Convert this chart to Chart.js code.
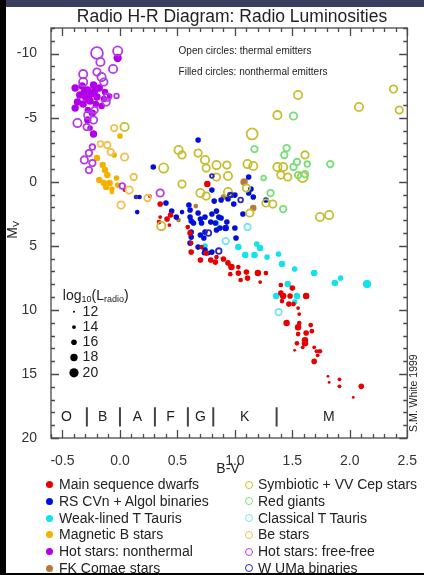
<!DOCTYPE html>
<html>
<head>
<meta charset="utf-8">
<script src="https://cdn.jsdelivr.net/npm/chart.js@4.4.1/dist/chart.umd.min.js"></script>
<style>
  body { margin: 0; background: #fff; font-family: "Liberation Sans", Arial, sans-serif; }
  #wrap { position: relative; width: 424px; height: 575px; overflow: hidden; background: #fff; }
  #hrChart { position: absolute; left: 0; top: 0; }
  .bar-top { position: absolute; left: 0; top: 0; width: 424px; height: 7px; background: #3b3d5d; }
  .bar-left { position: absolute; left: 0; top: 0; width: 6px; height: 575px; background: #000; }
  .bar-bottom { position: absolute; left: 0; top: 573px; width: 424px; height: 2px; background: #000; }
  .legend-col { position: absolute; top: 476px; font-size: 14px; color: #222; }
  .legend-row { position: relative; height: 16.8px; line-height: 16.8px; white-space: nowrap; }
  .legend-row .mark { position: absolute; top: 5px; left: 0; width: 7px; height: 7px; border-radius: 50%; box-sizing: border-box; }
  .legend-row span.txt { position: absolute; left: 13px; top: 0; }
</style>
</head>
<body>
<div id="wrap">
  <canvas id="hrChart" width="424" height="575"></canvas>
  <div class="bar-top"></div>
  <div class="bar-left"></div>
  <div class="bar-bottom"></div>
  <div class="legend-col" id="legendLeft" style="left:46px"></div>
  <div class="legend-col" id="legendRight" style="left:245px"></div>
</div>
<script>
// ========== RADIO H-R DIAGRAM ==========

// [B-V, Mv, log10 Lradio]
const mainSequenceDwarfs = [
  [0.04, 0.65, 14], [0.26, 1.12, 14], [0.35, 1.74, 16], [0.35, 2.76, 14], [0.41, 2.91, 16],
  [0.34, 3.15, 15], [0.43, 3.38, 14], [0.44, 2.6, 16], [0.76, 0.18, 17], [0.59, 3.54, 15],
  [0.61, 4.0, 16], [0.62, 4.78, 15], [0.62, 5.49, 16], [0.71, 5.1, 15], [0.75, 5.57, 16],
  [0.70, 6.11, 16], [0.79, 6.11, 16], [0.83, 6.27, 16], [0.84, 5.88, 15], [0.90, 6.03, 16],
  [0.94, 6.35, 16], [0.97, 6.66, 17], [1.03, 6.66, 15], [1.10, 7.05, 16], [1.03, 7.13, 16],
  [0.96, 7.21, 15], [1.05, 7.67, 15], [1.11, 7.52, 16], [1.20, 7.13, 17], [1.27, 7.13, 15],
  [1.22, 7.83, 14], [1.40, 8.06, 15], [1.50, 8.3, 16], [1.42, 8.92, 17], [1.48, 8.92, 16],
  [1.62, 8.92, 17], [1.41, 9.31, 15], [1.47, 9.55, 16], [1.51, 9.55, 15], [1.55, 9.86, 14],
  [1.56, 10.33, 14], [1.40, 8.69, 16], [1.45, 11.03, 17], [1.56, 11.03, 15], [1.55, 11.35, 17],
  [1.66, 11.19, 15], [1.67, 11.66, 15], [1.62, 11.81, 16], [1.55, 11.89, 15], [1.61, 12.38, 17],
  [1.61, 12.61, 17], [1.54, 12.61, 15], [1.59, 12.92, 14], [1.52, 13.16, 13], [1.69, 12.92, 14],
  [1.71, 13.23, 14], [1.74, 13.23, 15], [1.72, 13.55, 14], [1.69, 14.02, 16], [1.81, 15.19, 13],
  [1.82, 15.66, 13], [1.91, 15.42, 14], [1.91, 15.97, 14], [2.10, 15.97, 16], [2.03, 16.83, 13]
];
const rsCvnAlgol = [
  [0.68, -3.26, 16], [0.29, -1.15, 16], [0.15, 2.37, 15], [0.17, 1.19, 15], [0.40, 1.66, 16],
  [0.45, 2.29, 16], [0.49, 2.76, 16], [0.60, 1.82, 16], [0.61, 2.21, 16], [0.61, 2.76, 16],
  [0.62, 3.07, 16], [0.70, 2.91, 16], [0.74, 2.76, 16], [0.80, 2.52, 16], [0.84, 2.29, 16],
  [0.82, 1.51, 16], [0.88, 1.43, 16], [0.94, 1.35, 16], [1.00, 1.04, 16], [0.80, 0.65, 16],
  [0.83, 3.22, 16], [0.87, 3.61, 16], [0.88, 2.83, 16], [0.93, 3.15, 16], [0.92, 3.61, 17],
  [1.00, 3.61, 16], [1.01, 4.39, 16], [0.74, 3.93, 16], [0.70, 4.16, 16], [0.62, 4.32, 16],
  [0.68, 5.1, 16], [0.74, 5.33, 16], [0.80, 5.49, 16], [1.12, -0.37, 16], [1.14, 0.57, 16],
  [1.12, 0.88, 16], [0.97, 1.04, 16], [0.99, 1.74, 16], [1.16, 1.19, 16], [1.07, 2.52, 16],
  [1.27, 1.43, 16], [0.68, 2.44, 16], [0.86, 2.76, 16], [0.84, 3.77, 16], [0.64, 3.22, 16],
  [0.71, 3.22, 16], [0.79, 3.15, 16], [0.62, 3.93, 16], [0.73, 4.39, 16], [0.61, 4.79, 16],
  [0.77, 5.57, 15], [0.73, 5.57, 15], [0.54, 2.37, 15]
];
const weakLinedTTauri = [
  [0.84, 3.22, 16], [0.74, 5.02, 16], [1.03, 5.1, 17], [1.09, 5.72, 17], [1.17, 5.72, 17],
  [1.19, 4.86, 16], [1.22, 5.17, 17], [1.28, 5.88, 16], [1.38, 5.64, 16], [1.41, 6.42, 17],
  [1.52, 6.81, 16], [1.69, 7.13, 17], [1.87, 7.91, 17], [1.92, 7.52, 16], [2.15, 7.98, 19],
  [1.46, 7.98, 17], [1.36, 8.92, 17], [1.54, 8.92, 17], [1.52, 9.39, 16]
];
const magneticBStars = [
  [0.00, -3.57, 16], [-0.20, -1.85, 17], [-0.05, -2.09, 16], [-0.15, -1.3, 17], [-0.13, -0.91, 17],
  [-0.11, -0.52, 17], [-0.18, -0.13, 17], [-0.14, 0.1, 17], [-0.09, 0.1, 17], [-0.12, 0.41, 17],
  [-0.07, 0.57, 16], [-0.02, 0.26, 16], [-0.07, 0.8, 15], [-0.03, -0.29, 16]
];
const hotStarsNonthermal = [
  [-0.02, -9.66, 19], [-0.39, -7.32, 18], [-0.33, -7.47, 18], [-0.28, -7.16, 18], [-0.23, -7.55, 18],
  [-0.18, -7.32, 18], [-0.13, -7.0, 17], [-0.35, -6.77, 18], [-0.30, -6.61, 18], [-0.25, -6.85, 18],
  [-0.20, -6.61, 18], [-0.14, -6.46, 17], [-0.37, -6.22, 18], [-0.32, -6.07, 18], [-0.26, -6.3, 18],
  [-0.21, -6.07, 17], [-0.16, -5.91, 17], [-0.28, -5.6, 17], [-0.24, -5.36, 18], [-0.39, -5.75, 18],
  [-0.09, -6.69, 16], [-0.28, -4.82, 18], [-0.23, -3.73, 18], [-0.26, -4.19, 16], [-0.31, -7.0, 18],
  [-0.22, -7.1, 18], [-0.27, -6.4, 18]
];
const fkComaeStars = [
  [1.08, 0.02, 18], [1.16, 2.05, 17], [0.90, 1.19, 16], [0.51, 2.99, 15], [0.14, 1.19, 15],
  [0.94, 6.27, 15], [0.66, 1.9, 15]
];
const symbioticVVCep = [
  [0.04, -4.27, 19], [0.51, -2.48, 19], [0.54, -2.09, 18], [0.68, -2.24, 18], [0.74, -1.7, 19],
  [0.75, -1.07, 18], [0.84, -1.3, 19], [0.93, -1.3, 18], [0.84, -0.37, 18], [0.94, -0.45, 19],
  [0.38, -1.07, 20], [0.54, 0.18, 18], [0.70, 0.88, 19], [0.75, 1.12, 18], [0.94, 0.8, 19],
  [1.10, 0.49, 18], [1.11, -1.38, 19], [1.16, -1.23, 19], [1.15, -3.73, 22], [1.37, -5.2, 19],
  [1.55, -6.77, 19], [2.08, -5.83, 19], [2.38, -7.24, 18], [2.43, -5.6, 18], [1.61, -2.09, 18],
  [1.37, -1.15, 19], [1.42, -1.15, 19], [1.40, -0.52, 18], [1.46, -0.37, 18], [1.59, -0.37, 21],
  [1.27, 1.66, 18], [1.33, 1.74, 18], [1.13, 2.44, 18], [1.74, 2.75, 19], [1.82, 2.6, 19],
  [0.36, 3.46, 19]
];
const redGiants = [
  [1.51, -5.13, 18], [1.17, -2.55, 17], [1.45, -2.63, 17], [1.43, -2.09, 17], [1.54, -1.54, 17],
  [1.51, -1.15, 17], [1.63, -1.38, 16], [1.83, -1.38, 17], [1.25, -0.29, 15], [1.55, -0.52, 17],
  [1.61, -0.6, 17], [1.31, 0.88, 17], [1.42, 2.13, 17]
];
const classicalTTauri = [
  [0.92, 4.63, 17], [1.11, 3.53, 17], [1.38, 10.17, 17]
];
const beStars = [
  [-0.05, -4.19, 17], [-0.11, -2.87, 17], [-0.08, -2.32, 17], [0.04, -1.93, 18], [0.12, -0.37, 17],
  [0.08, 0.65, 18], [0.01, 1.82, 18], [0.24, 1.27, 17], [-0.17, -2.95, 16]
];
const hotStarsFreeFree = [
  [-0.20, -10.05, 23], [-0.02, -10.2, 20], [-0.17, -9.35, 19], [-0.06, -8.8, 19], [-0.32, -8.4, 19],
  [-0.20, -8.56, 18], [-0.16, -8.17, 19], [-0.32, -7.78, 19], [-0.14, -7.78, 18], [-0.03, -6.69, 15],
  [-0.11, -6.6, 18], [-0.12, -6.22, 18], [-0.37, -4.58, 19], [-0.28, -5.2, 18], [-0.23, -4.82, 18],
  [-0.29, -4.27, 17], [-0.22, -5.6, 17], [-0.24, -2.71, 16], [-0.27, -2.24, 17], [-0.31, -1.7, 18],
  [-0.24, -1.46, 17], [-0.27, -0.91, 17], [0.35, 0.88, 18], [0.02, 0.33, 16]
];
const wUMaBinaries = [
  [0.80, -0.45, 14], [0.96, 1.04, 15], [1.05, 1.43, 15], [0.77, 4.0, 16], [0.86, 5.41, 16],
  [0.14, 1.19, 13]
];

// eixos e rotulos
const xTickValues = [-0.5, 0.0, 0.5, 1.0, 1.5, 2.0, 2.5];
const yTickValues = [-10, -5, 0, 5, 10, 15, 20];
const sizeLegendValues = [12, 14, 16, 18, 20];
const spectralClasses = ['O', 'B', 'A', 'F', 'G', 'K', 'M'];
const spectralCenters = [-0.465, -0.15, 0.152, 0.439, 0.70, 1.085, 1.817];
const spectralBounds = [-0.288, 0.0, 0.304, 0.591, 0.812, 1.363];

// grupos: filled = nao-termico, open = termico
const groups = [
  { label: 'Main sequence dwarfs', data: mainSequenceDwarfs, color: '#e80000', filled: true },
  { label: 'RS CVn + Algol binaries', data: rsCvnAlgol, color: '#0010d8', filled: true },
  { label: 'Weak-lined T Tauris', data: weakLinedTTauri, color: '#12e2ec', filled: true },
  { label: 'Magnetic B stars', data: magneticBStars, color: '#f4b200', filled: true },
  { label: 'Hot stars: nonthermal', data: hotStarsNonthermal, color: '#b200e8', filled: true },
  { label: 'FK Comae stars', data: fkComaeStars, color: '#b87a3c', filled: true },
  { label: 'Symbiotic + VV Cep stars', data: symbioticVVCep, color: '#c6be2e', filled: false },
  { label: 'Red giants', data: redGiants, color: '#78de78', filled: false },
  { label: 'Classical T Tauris', data: classicalTTauri, color: '#78e4ee', filled: false },
  { label: 'Be stars', data: beStars, color: '#f2c050', filled: false },
  { label: 'Hot stars: free-free', data: hotStarsFreeFree, color: '#b43ce6', filled: false },
  { label: 'W UMa binaries', data: wUMaBinaries, color: '#2a2ab4', filled: false }
];

function radiusFor(logL) {
  return Math.max(0.9, 1 + 0.45 * (logL - 12));
}

const FONT = '"Liberation Sans", Arial, sans-serif';

function drawSub(ctx, parts, x, y, size) {
  // parts: [texto, subscrito?]
  let cx = x;
  parts.forEach(([t, sub]) => {
    ctx.font = (sub ? Math.round(size * 0.62) : size) + 'px ' + FONT;
    ctx.fillText(t, cx, sub ? y + size * 0.28 : y);
    cx += ctx.measureText(t).width;
  });
}

const hrDecor = {
  id: 'hrDecor',
  beforeDraw(chart) {
    const ctx = chart.ctx;
    ctx.save();
    ctx.fillStyle = '#fff';
    ctx.fillRect(0, 0, chart.width, chart.height);
    ctx.restore();
  },
  afterDraw(chart) {
    const { ctx, chartArea: a, scales: { x, y } } = chart;
    ctx.save();

    // moldura + ticks para dentro
    ctx.strokeStyle = '#4a4a4a';
    ctx.lineWidth = 1.3;
    ctx.strokeRect(a.left, a.top, a.right - a.left, a.bottom - a.top);
    ctx.beginPath();
    for (let i = -12; i <= 20; i++) {
      const py = Math.round(y.getPixelForValue(i)) + 0.5;
      const len = i % 5 === 0 ? 8 : 4;
      ctx.moveTo(a.left, py); ctx.lineTo(a.left + len, py);
      ctx.moveTo(a.right, py); ctx.lineTo(a.right - len, py);
    }
    for (let i = -6; i <= 25; i++) {
      const px = Math.round(x.getPixelForValue(i / 10)) + 0.5;
      const len = i % 5 === 0 ? 8 : 4;
      ctx.moveTo(px, a.bottom); ctx.lineTo(px, a.bottom - len);
      ctx.moveTo(px, a.top); ctx.lineTo(px, a.top + len);
    }
    ctx.stroke();

    ctx.fillStyle = '#222';
    ctx.textBaseline = 'middle';

    // titulo
    ctx.textAlign = 'center';
    ctx.font = '17.5px ' + FONT;
    ctx.fillText('Radio H-R Diagram: Radio Luminosities', 232, 17);

    // titulo do eixo x
    ctx.font = '14px ' + FONT;
    ctx.fillText('B-V', 228, 469);

    // notas
    ctx.textAlign = 'left';
    ctx.font = '10px ' + FONT;
    ctx.fillText('Open circles: thermal emitters', x.getPixelForValue(0.51), y.getPixelForValue(-10.2));
    ctx.fillText('Filled circles: nonthermal emitters', x.getPixelForValue(0.51), y.getPixelForValue(-8.55));

    // classes espectrais
    ctx.textAlign = 'center';
    ctx.font = '14px ' + FONT;
    spectralClasses.forEach((c, i) => {
      ctx.fillText(c, x.getPixelForValue(spectralCenters[i]), y.getPixelForValue(18.35));
    });
    ctx.strokeStyle = '#444';
    ctx.lineWidth = 2;
    ctx.beginPath();
    spectralBounds.forEach(b => {
      const px = x.getPixelForValue(b);
      ctx.moveTo(px, y.getPixelForValue(17.6));
      ctx.lineTo(px, y.getPixelForValue(19.1));
    });
    ctx.stroke();

    // legenda de tamanho
    ctx.textAlign = 'left';
    drawSub(ctx, [['log', false], ['10', true], ['(L', false], ['radio', true], [')', false]],
      x.getPixelForValue(-0.497), y.getPixelForValue(8.9), 14);
    ctx.font = '14px ' + FONT;
    sizeLegendValues.forEach((v, i) => {
      const py = y.getPixelForValue(10.15 + 1.19 * i);
      ctx.beginPath();
      ctx.fillStyle = '#000';
      ctx.arc(x.getPixelForValue(-0.40), py, radiusFor(v), 0, Math.PI * 2);
      ctx.fill();
      ctx.fillStyle = '#222';
      ctx.fillText(String(v), x.getPixelForValue(-0.325), py);
    });

    // eixo y: M_V
    ctx.save();
    ctx.translate(a.left - 38, y.getPixelForValue(3.9));
    ctx.rotate(-Math.PI / 2);
    ctx.textAlign = 'left';
    drawSub(ctx, [['M', false], ['V', true]], -7, 0, 14);
    ctx.restore();

    // credito
    ctx.save();
    ctx.translate(a.right + 7, y.getPixelForValue(16.5));
    ctx.rotate(-Math.PI / 2);
    ctx.textAlign = 'center';
    ctx.font = '10.5px ' + FONT;
    ctx.fillText('S.M. White 1999', 0, 0);
    ctx.restore();

    ctx.restore();
  }
};

// desenha abertos por cima dos preenchidos
const drawOrder = groups.slice().reverse().filter(g => !g.filled).concat(groups.filter(g => g.filled));

new Chart(document.getElementById('hrChart'), {
  type: 'scatter',
  data: {
    datasets: drawOrder.map(g => ({
      label: g.label,
      data: g.data.map(p => ({ x: p[0], y: p[1], L: p[2] })),
      pointRadius: ctx => radiusFor(ctx.raw ? ctx.raw.L : 16),
      pointHoverRadius: ctx => radiusFor(ctx.raw ? ctx.raw.L : 16),
      pointBackgroundColor: g.filled ? g.color : 'rgba(0,0,0,0)',
      pointBorderColor: g.color,
      pointBorderWidth: g.filled ? 0 : 1.8,
      showLine: false
    }))
  },
  options: {
    responsive: false,
    animation: false,
    events: [],
    layout: { padding: { top: 28, right: 13, left: 0, bottom: 0 } },
    plugins: { legend: { display: false }, tooltip: { enabled: false }, title: { display: false } },
    scales: {
      x: {
        type: 'linear',
        min: -0.6,
        max: 2.5,
        grid: { display: false },
        border: { display: false },
        afterBuildTicks: s => { s.ticks = xTickValues.map(v => ({ value: v })); },
        afterFit: s => { s.height = 137; },
        ticks: {
          color: '#333',
          font: { family: FONT, size: 14 },
          padding: 7,
          maxRotation: 0,
          autoSkip: false,
          callback: v => Number(v).toFixed(1)
        }
      },
      y: {
        type: 'linear',
        reverse: true,
        min: -12,
        max: 20,
        grid: { display: false },
        border: { display: false },
        afterBuildTicks: s => { s.ticks = yTickValues.map(v => ({ value: v })); },
        afterFit: s => { s.width = 51; },
        ticks: {
          color: '#333',
          font: { family: FONT, size: 14 },
          padding: 6,
          autoSkip: false,
          callback: v => String(v)
        }
      }
    }
  },
  plugins: [hrDecor]
});

// legenda em duas colunas
function buildLegend(el, items) {
  el.innerHTML = items.map(g => {
    const style = g.filled
      ? `background:${g.color};`
      : `border:1.6px solid ${g.color};width:8px;height:8px;top:4.5px;left:-0.5px;`;
    return `<div class="legend-row"><span class="mark" style="${style}"></span><span class="txt">${g.label}</span></div>`;
  }).join('');
}
buildLegend(document.getElementById('legendLeft'), groups.filter(g => g.filled));
buildLegend(document.getElementById('legendRight'), groups.filter(g => !g.filled));
</script>
</body>
</html>
